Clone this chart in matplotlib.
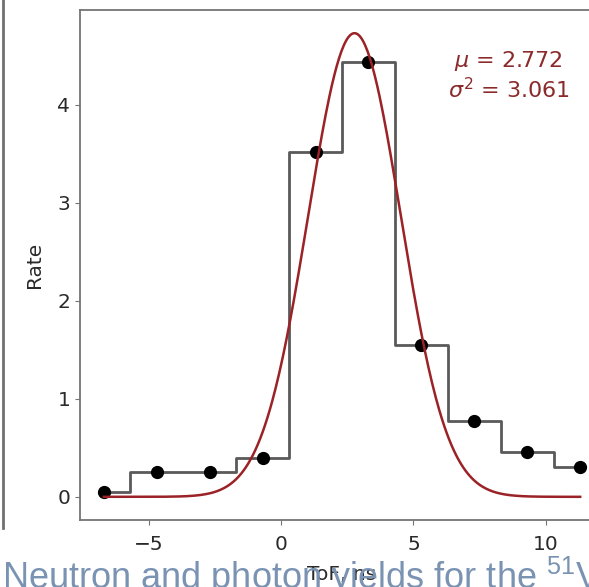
import numpy as np
import matplotlib
matplotlib.use("Agg")
import matplotlib.pyplot as plt
from matplotlib.lines import Line2D

# ToF bin centres (ns) and rates
tof = [-6.7, -4.7, -2.7, -0.7, 1.3, 3.3, 5.3, 7.3, 9.3, 11.3]
rate = [0.05, 0.25, 0.25, 0.40, 3.52, 4.44, 1.55, 0.77, 0.46, 0.30]

# gaussian fit parameters
mu = 2.772
sigma2 = 3.061
amp = 4.73

plt.rcParams['mathtext.fontset'] = 'custom'
plt.rcParams['mathtext.rm'] = 'Liberation Sans'

fig = plt.figure(figsize=(5.89, 5.87), dpi=100)
ax = fig.add_axes([80 / 589, 1 - 520 / 587, 524 / 589, 510 / 587])

spine_col = "#747474"
for s in ax.spines.values():
    s.set_color(spine_col)
    s.set_linewidth(1.3)
ax.tick_params(colors="#2a2a2a", labelsize=14.5, color=spine_col)
ax.tick_params(axis="x", pad=7)

ax.step(tof, rate, where="mid", color="#5a5a5a", lw=2)
ax.plot(tof, rate, "o", color="black", ms=8.5)

xs = np.linspace(tof[0], tof[-1], 400)
ax.plot(xs, amp * np.exp(-(xs - mu) ** 2 / (2 * sigma2)), color="#9b2226", lw=1.8)

ax.text(8.6, 4.3, "$\\mu$ = %.3f\n$\\sigma^2$ = %.3f" % (mu, sigma2),
        color="#8b2a2a", fontsize=16, ha="center", va="center",
        family="DejaVu Sans", math_fontfamily="dejavusans")

ax.set_xlabel("ToF, ns", fontsize=14.5, color="#2a2a2a", labelpad=8)
ax.set_ylabel("Rate", fontsize=14.5, color="#2a2a2a", labelpad=10)
ax.set_yticks([0, 1, 2, 3, 4])
ax.set_xticks([-5, 0, 5, 10])

# leftover edge of a neighbouring panel in the screenshot
fig.add_artist(Line2D([2.5 / 589, 2.5 / 589], [1, 1 - 528 / 587],
                      transform=fig.transFigure, color="#707070", lw=2))

fig.text(0.004, 1 - 589 / 587, "Neutron and photon yields for the $^{51}$V",
         family="Liberation Sans", fontsize=26, color="#7a93b3", va="baseline")

fig.savefig("out.png", dpi=100)
